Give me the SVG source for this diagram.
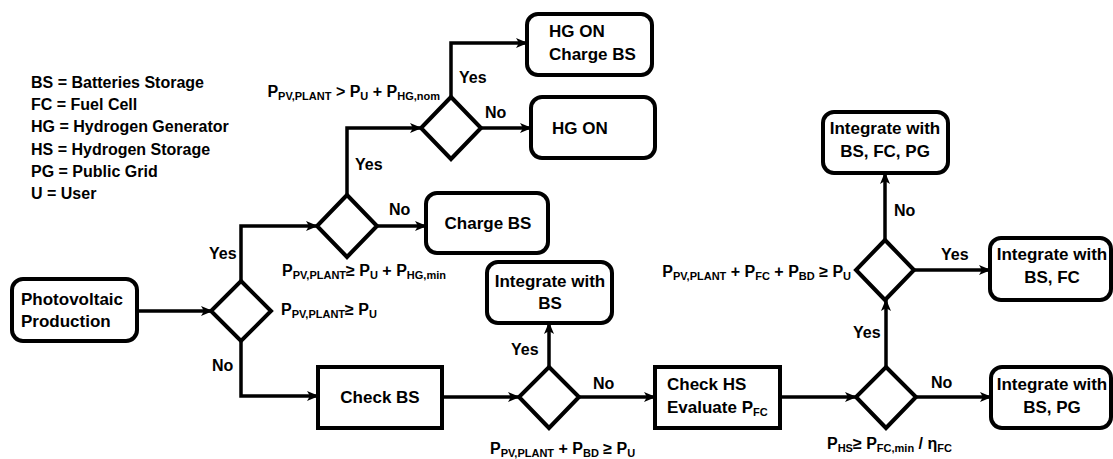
<svg xmlns="http://www.w3.org/2000/svg" width="1113" height="459" viewBox="0 0 1113 459">
<style>
text{font-family:"Liberation Sans",Arial,sans-serif;font-weight:bold;fill:#000}
.t{font-size:17px}
.l{font-size:16px}
.c{font-size:16px}
.s{font-size:11px}
.box{fill:#fff;stroke:#000;stroke-width:4}
.dia{fill:#fff;stroke:#000;stroke-width:4;stroke-linejoin:miter}
.con{fill:none;stroke:#000;stroke-width:3.5;marker-end:url(#arr)}
.mid{text-anchor:middle}
</style>
<defs>
<marker id="arr" markerUnits="userSpaceOnUse" markerWidth="12" markerHeight="10" refX="11" refY="5" orient="auto">
<path d="M0,0 L12,5 L0,10 L3,5 z" fill="#000"/>
</marker>
</defs>
<rect width="1113" height="459" fill="#fff"/>

<g id="legend" class="l">
<text x="31" y="88" class="l">BS = Batteries Storage</text>
<text x="31" y="110" class="l">FC = Fuel Cell</text>
<text x="31" y="132" class="l">HG = Hydrogen Generator</text>
<text x="31" y="155" class="l">HS = Hydrogen Storage</text>
<text x="31" y="177" class="l">PG = Public Grid</text>
<text x="31" y="199" class="l">U = User</text>
</g>

<g id="connectors">
<path class="con" d="M137,311 H212"/>
<path class="con" d="M241,281 V226 H317"/>
<path class="con" d="M347,195 V128 H421"/>
<path class="con" d="M451,97 V43 H527"/>
<path class="con" d="M481,128 H531"/>
<path class="con" d="M377,226 H426"/>
<path class="con" d="M241,341 V396 H318"/>
<path class="con" d="M442,397 H519"/>
<path class="con" d="M549,367 V323"/>
<path class="con" d="M579,397 H655"/>
<path class="con" d="M780,397 H856"/>
<path class="con" d="M886,367 V300"/>
<path class="con" d="M916,397 H991"/>
<path class="con" d="M914,270 H990"/>
<path class="con" d="M885,240 V173"/>
</g>

<g id="pv">
<rect class="box" x="12" y="279" width="125" height="62" rx="11"/>
<text class="t" x="21" y="305">Photovoltaic</text>
<text class="t" x="21" y="327">Production</text>
</g>

<g id="d1">
<path class="dia" d="M241,281 L271,311 L241,341 L211,311 Z"/>
</g>
<g id="d2">
<path class="dia" d="M347,195 L377,226 L347,257 L317,226 Z"/>
</g>
<g id="d3top">
<path class="dia" d="M451,97 L481,128 L451,159 L421,128 Z"/>
</g>

<g id="hgcharge">
<rect class="box" x="527" y="14" width="125" height="61" rx="11"/>
<text class="t" x="549" y="37">HG ON</text>
<text class="t" x="549" y="60">Charge BS</text>
</g>
<g id="hgon">
<rect class="box" x="531" y="97" width="124" height="61" rx="11"/>
<text class="t" x="552" y="134">HG ON</text>
</g>
<g id="chargebs">
<rect class="box" x="426" y="193" width="122" height="60" rx="11"/>
<text class="t mid" x="488" y="229">Charge BS</text>
</g>

<g id="checkbs">
<rect class="box" x="318" y="367" width="124" height="61"/>
<text class="t mid" x="380" y="403">Check BS</text>
</g>
<g id="d4">
<path class="dia" d="M549,367 L579,397 L549,428 L519,397 Z"/>
</g>
<g id="intbs">
<rect class="box" x="487" y="262" width="125" height="61" rx="11"/>
<text class="t mid" x="550" y="287">Integrate with</text>
<text class="t mid" x="550" y="309">BS</text>
</g>
<g id="checkhs">
<rect class="box" x="655" y="367" width="125" height="61"/>
<text class="t" x="667" y="390">Check HS</text>
<text class="t" x="667" y="413">Evaluate P<tspan class="s" dy="3">FC</tspan></text>
</g>
<g id="d5">
<path class="dia" d="M886,367 L916,397 L886,428 L856,397 Z"/>
</g>
<g id="d6">
<path class="dia" d="M885,240 L914,270 L885,300 L856,270 Z"/>
</g>
<g id="intfcpg">
<rect class="box" x="823" y="112" width="125" height="61" rx="11"/>
<text class="t mid" x="885" y="134">Integrate with</text>
<text class="t mid" x="885" y="157">BS, FC, PG</text>
</g>
<g id="intfc">
<rect class="box" x="990" y="238" width="121" height="62" rx="11"/>
<text class="t mid" x="1052" y="260">Integrate with</text>
<text class="t mid" x="1052" y="283">BS, FC</text>
</g>
<g id="intpg">
<rect class="box" x="991" y="367" width="120" height="61" rx="11"/>
<text class="t mid" x="1052" y="390">Integrate with</text>
<text class="t mid" x="1052" y="413">BS, PG</text>
</g>

<g id="labels" class="l">
<text class="l" x="209" y="259">Yes</text>
<text class="l" x="212" y="371">No</text>
<text class="l" x="355" y="170">Yes</text>
<text class="l" x="389" y="215">No</text>
<text class="l" x="459" y="83">Yes</text>
<text class="l" x="485" y="118">No</text>
<text class="l" x="511" y="355">Yes</text>
<text class="l" x="593" y="389">No</text>
<text class="l" x="853" y="338">Yes</text>
<text class="l" x="931" y="388">No</text>
<text class="l" x="941" y="260">Yes</text>
<text class="l" x="894" y="216">No</text>
</g>

<g id="conditions">
<text class="c" x="440" y="97" text-anchor="end">P<tspan class="s" dy="3">PV,PLANT</tspan><tspan dy="-3"> &gt; P</tspan><tspan class="s" dy="3">U</tspan><tspan dy="-3"> + P</tspan><tspan class="s" dy="3">HG,nom</tspan></text>
<text class="c" x="282" y="276">P<tspan class="s" dy="3">PV,PLANT</tspan><tspan dy="-3">≥ P</tspan><tspan class="s" dy="3">U</tspan><tspan dy="-3"> + P</tspan><tspan class="s" dy="3">HG,min</tspan></text>
<text class="c" x="281" y="315">P<tspan class="s" dy="3">PV,PLANT</tspan><tspan dy="-3">≥ P</tspan><tspan class="s" dy="3">U</tspan></text>
<text class="c" x="490" y="454">P<tspan class="s" dy="3">PV,PLANT</tspan><tspan dy="-3"> + P</tspan><tspan class="s" dy="3">BD</tspan><tspan dy="-3"> ≥ P</tspan><tspan class="s" dy="3">U</tspan></text>
<text class="c" x="827" y="449">P<tspan class="s" dy="3">HS</tspan><tspan dy="-3">≥ P</tspan><tspan class="s" dy="3">FC,min</tspan><tspan dy="-3"> / η</tspan><tspan class="s" dy="3">FC</tspan></text>
<text class="c" x="851" y="277" text-anchor="end">P<tspan class="s" dy="3">PV,PLANT</tspan><tspan dy="-3"> + P</tspan><tspan class="s" dy="3">FC</tspan><tspan dy="-3">  + P</tspan><tspan class="s" dy="3">BD</tspan><tspan dy="-3"> ≥ P</tspan><tspan class="s" dy="3">U</tspan></text>
</g>
</svg>
